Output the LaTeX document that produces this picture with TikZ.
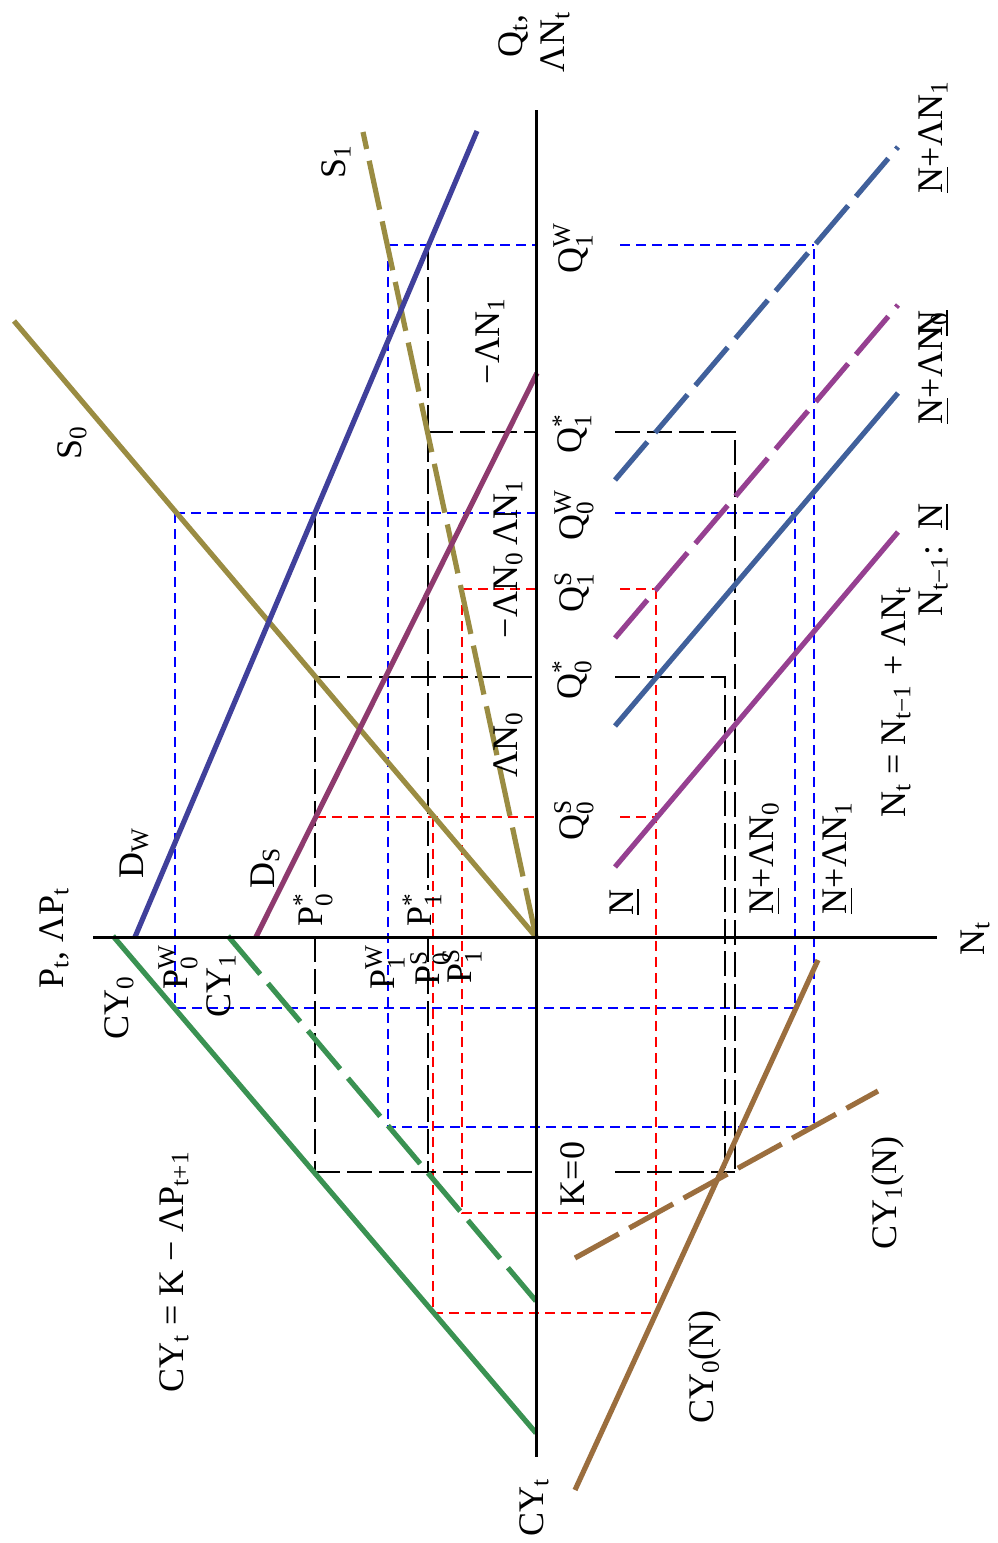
\documentclass[tikz,border=0pt]{standalone}
\usepackage{amsmath}
\usepackage{fontspec}
\setmainfont{Liberation Serif}
\newcommand\mysub[1]{$_\text{#1}$}
\newcommand\mysubsup[2]{$_\text{#1}^\text{#2}$}
\newcommand\uN{\underline{N}}
\definecolor{olivec}{RGB}{154,140,66}
\definecolor{dwc}{RGB}{64,64,155}
\definecolor{dsc}{RGB}{142,58,110}
\definecolor{npc}{RGB}{150,64,145}
\definecolor{nbc}{RGB}{64,96,155}
\definecolor{grc}{RGB}{58,146,82}
\definecolor{brc}{RGB}{155,110,62}
\begin{document}
\begin{tikzpicture}[x=0.5pt,y=-0.5pt,
  lab/.style={rotate=90,inner sep=0pt,font=\fontsize{18}{21}\selectfont},
  ax/.style={line width=1.5pt},
  curve/.style={line width=2.6pt},
  ldash/.style={dash pattern=on 25pt off 6pt},
  bd/.style={draw=blue,line width=1.4pt,dash pattern=on 5pt off 3pt},
  rd/.style={draw=red,line width=1.4pt,dash pattern=on 5pt off 3pt},
  kd/.style={draw=black,line width=1.4pt,dash pattern=on 12.5pt off 3.5pt},
]
\useasboundingbox (0,0) rectangle (997,1543);
% blue dashed
\draw[bd] (175,513) -- (536,513);
\draw[bd] (615,513) -- (795,513);
\draw[bd] (175,513) -- (175,1008) -- (795,1008) -- (795,513);
\draw[bd] (388,245) -- (536,245);
\draw[bd] (620,245) -- (814,245);
\draw[bd] (388,245) -- (388,1127) -- (814,1127) -- (814,245);
% red dashed
\draw[rd] (316,817) -- (536,817);
\draw[rd] (620,817) -- (656,817);
\draw[rd] (433,817) -- (433,1313) -- (656,1313);
\draw[rd] (462,589) -- (536,589);
\draw[rd] (620,589) -- (656,589);
\draw[rd] (462,589) -- (462,1213) -- (656,1213);
\draw[rd] (656,589) -- (656,1313);
% black dashed
\draw[kd] (315,513) -- (315,887);
\draw[kd] (315,937) -- (315,1172);
\draw[kd] (315,677) -- (536,677);
\draw[kd] (615,677) -- (725,677) -- (725,1172);
\draw[kd] (315,1172) -- (536,1172);
\draw[kd] (615,1172) -- (735,1172);
\draw[kd] (428,245) -- (428,890);
\draw[kd] (428,937) -- (428,1172);
\draw[kd] (428,432) -- (536,432);
\draw[kd] (615,432) -- (735,432) -- (735,1172);
% curves
\draw[curve,olivec] (536,937) -- (14,321);
\draw[curve,olivec,ldash] (536,937) -- (363,132);
\draw[curve,dwc] (135,937) -- (477,131);
\draw[curve,dsc] (256,937) -- (537,373);
\draw[curve,grc] (113,936) -- (536,1433);
\draw[curve,grc,ldash] (228,936) -- (536,1301);
\draw[curve,npc] (615,867) -- (898,532);
\draw[curve,nbc] (615,726) -- (898,393);
\draw[curve,npc,ldash] (615,638) -- (898,305);
\draw[curve,nbc,ldash] (615,480) -- (898,147);
\draw[curve,brc] (575,1490) -- (818,960);
\draw[curve,brc,ldash] (575,1258) -- (878,1091);
% axes
\draw[ax] (93,937) -- (937,937);
\draw[ax] (536,110) -- (536,1457);
% labels
\node[lab] (lpt) at (54,938) {P\mysub{t}, ΛP\mysub{t}};
\node[lab] (lqt) at (513,36) {Q\mysub{t},};
\node[lab] (lnt2) at (555,42) {ΛN\mysub{t}};
\node[lab] (lnt) at (975,938) {N\mysub{t}};
\node[lab] (lcyt) at (534,1507) {CY\mysub{t}};
\node[lab] (ls1) at (336,162) {S\mysub{1}};
\node[lab] (ls0) at (72,443) {S\mysub{0}};
\node[lab] (lmdn1) at (490,341) {−ΛN\mysub{1}};
\node[lab] (ldn1) at (508,513) {ΛN\mysub{1}};
\node[lab] (lmdn0) at (508,595) {−ΛN\mysub{0}};
\node[lab] (ldn0) at (508,745) {ΛN\mysub{0}};
\node[lab] (ldw) at (134,853) {D\mysub{W}};
\node[lab] (lds) at (265,868) {D\mysub{S}};
\node[lab] (lp0s) at (313,910) {P\mysubsup{0}{*}};
\node[lab] (lp1s) at (422,910) {P\mysubsup{1}{*}};
\node[lab] (lp0w) at (178,967) {P\mysubsup{0}{W}};
\node[lab] (lcy1) at (221,986) {CY\mysub{1}};
\node[lab] (lcy0) at (119,1008) {CY\mysub{0}};
\node[lab] (lp1w) at (385,967) {P\mysubsup{1}{W}};
\node[lab] (lp0ss) at (430,968) {P\mysubsup{0}{S}};
\node[lab] (lp1ss) at (462,966) {P\mysubsup{1}{S}};
\node[lab] (lq1w) at (573,248) {Q\mysubsup{1}{W}};
\node[lab] (lq1s) at (572,434) {Q\mysubsup{1}{*}};
\node[lab] (lq0w) at (574,515) {Q\mysubsup{0}{W}};
\node[lab] (lq1ss) at (574,592) {Q\mysubsup{1}{S}};
\node[lab] (lq0s) at (572,680) {Q\mysubsup{0}{*}};
\node[lab] (lq0ss) at (574,820) {Q\mysubsup{0}{S}};
\node[lab] (lk0) at (573,1174) {K=0};
\node[lab] (lnbar) at (625,902) {\uN};
\node[lab] (lnd0) at (765,858) {\uN+ΛN\mysub{0}};
\node[lab] (lnd1) at (838,858) {\uN+ΛN\mysub{1}};
\node[lab] (leq) at (896,702) {N\mysub{t} = N\mysub{t−1} + ΛN\mysub{t}};
\node[lab] (lnt1) at (934,560) {N\mysub{t−1}:\hspace{8pt}\uN};
\node[lab] (lnd0b) at (934,368) {\uN+ΛN\mysub{0}};
\node[lab] (lnbarb) at (934,323) {\uN};
\node[lab] (lnd1b) at (934,137) {\uN+ΛN\mysub{1}};
\node[lab] (lcy1n) at (888,1193) {CY\mysub{1}(N)};
\node[lab] (lcy0n) at (705,1367) {CY\mysub{0}(N)};
\node[lab] (lcyeq) at (174,1272) {CY\mysub{t} = K − ΛP\mysub{t+1}};
\end{tikzpicture}
\end{document}
